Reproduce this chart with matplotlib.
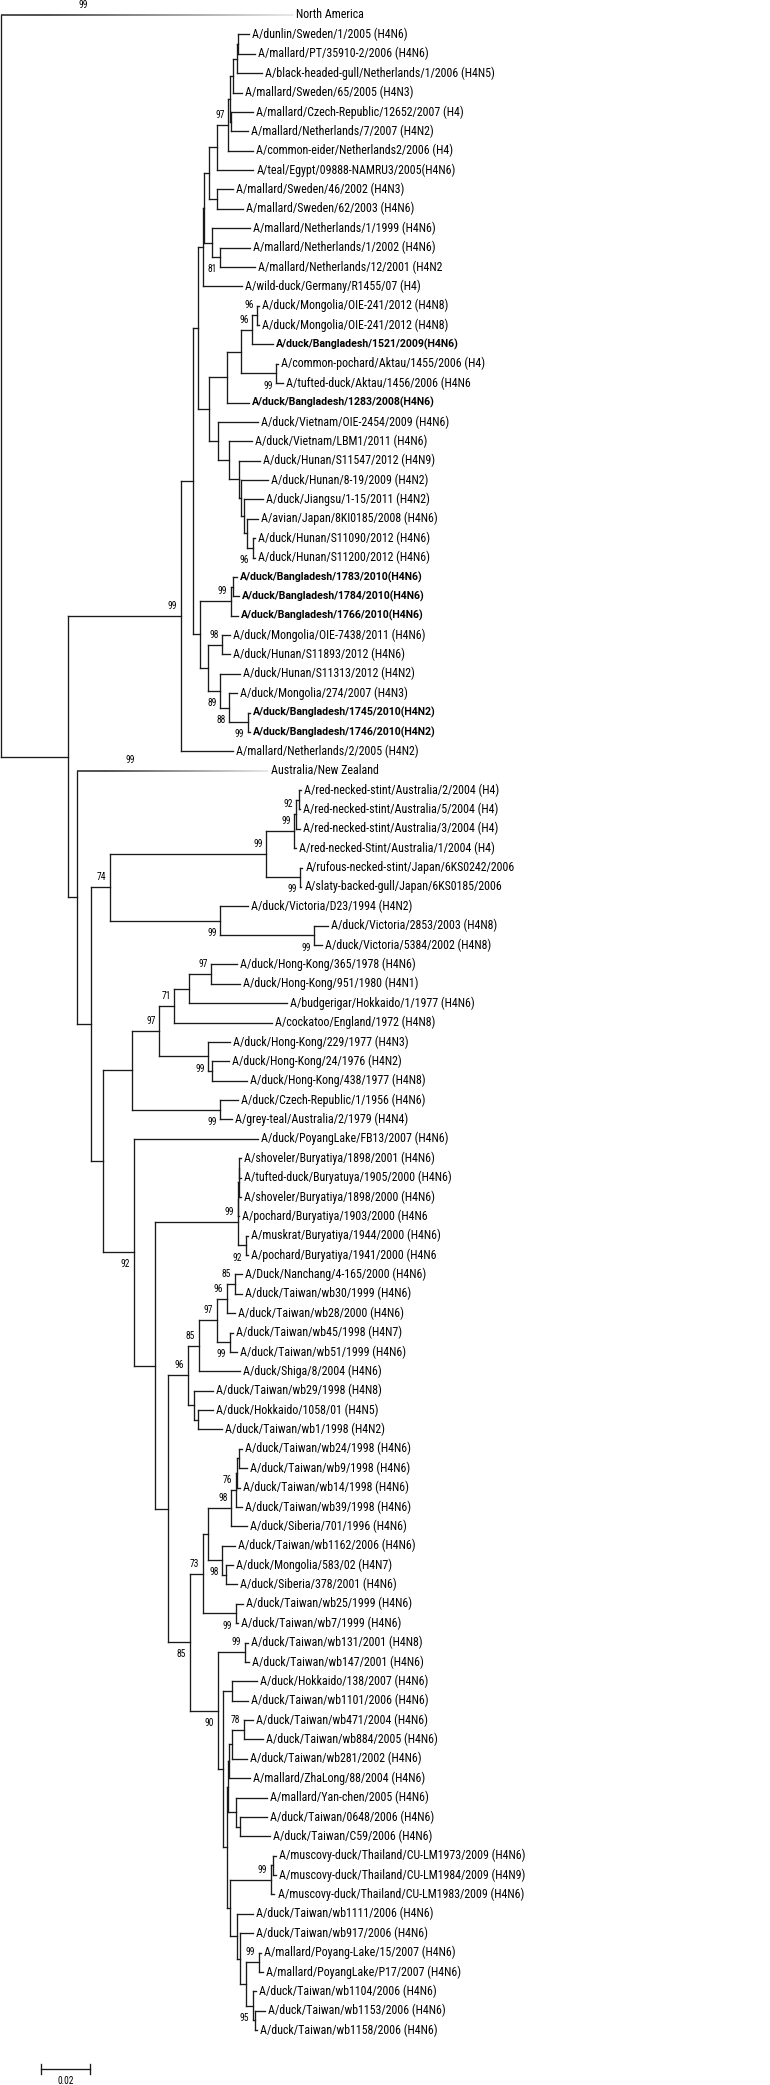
"""Phylogenetic tree of H4 HA sequences (neighbour-joining, bootstrap labels)."""

import matplotlib
matplotlib.use("Agg")
import matplotlib.pyplot as plt
import matplotlib.font_manager as fm
from matplotlib.collections import LineCollection
import numpy as np

leaf_names = [
    "North America",
    "A/dunlin/Sweden/1/2005 (H4N6)",
    "A/mallard/PT/35910-2/2006 (H4N6)",
    "A/black-headed-gull/Netherlands/1/2006 (H4N5)",
    "A/mallard/Sweden/65/2005 (H4N3)",
    "A/mallard/Czech-Republic/12652/2007 (H4)",
    "A/mallard/Netherlands/7/2007 (H4N2)",
    "A/common-eider/Netherlands2/2006 (H4)",
    "A/teal/Egypt/09888-NAMRU3/2005(H4N6)",
    "A/mallard/Sweden/46/2002 (H4N3)",
    "A/mallard/Sweden/62/2003 (H4N6)",
    "A/mallard/Netherlands/1/1999 (H4N6)",
    "A/mallard/Netherlands/1/2002 (H4N6)",
    "A/mallard/Netherlands/12/2001 (H4N2",
    "A/wild-duck/Germany/R1455/07 (H4)",
    "A/duck/Mongolia/OIE-241/2012 (H4N8)",
    "A/duck/Mongolia/OIE-241/2012 (H4N8)",
    "A/duck/Bangladesh/1521/2009(H4N6)",
    "A/common-pochard/Aktau/1455/2006 (H4)",
    "A/tufted-duck/Aktau/1456/2006 (H4N6",
    "A/duck/Bangladesh/1283/2008(H4N6)",
    "A/duck/Vietnam/OIE-2454/2009 (H4N6)",
    "A/duck/Vietnam/LBM1/2011 (H4N6)",
    "A/duck/Hunan/S11547/2012 (H4N9)",
    "A/duck/Hunan/8-19/2009 (H4N2)",
    "A/duck/Jiangsu/1-15/2011 (H4N2)",
    "A/avian/Japan/8KI0185/2008 (H4N6)",
    "A/duck/Hunan/S11090/2012 (H4N6)",
    "A/duck/Hunan/S11200/2012 (H4N6)",
    "A/duck/Bangladesh/1783/2010(H4N6)",
    "A/duck/Bangladesh/1784/2010(H4N6)",
    "A/duck/Bangladesh/1766/2010(H4N6)",
    "A/duck/Mongolia/OIE-7438/2011 (H4N6)",
    "A/duck/Hunan/S11893/2012 (H4N6)",
    "A/duck/Hunan/S11313/2012 (H4N2)",
    "A/duck/Mongolia/274/2007 (H4N3)",
    "A/duck/Bangladesh/1745/2010(H4N2)",
    "A/duck/Bangladesh/1746/2010(H4N2)",
    "A/mallard/Netherlands/2/2005 (H4N2)",
    "Australia/New Zealand",
    "A/red-necked-stint/Australia/2/2004 (H4)",
    "A/red-necked-stint/Australia/5/2004 (H4)",
    "A/red-necked-stint/Australia/3/2004 (H4)",
    "A/red-necked-Stint/Australia/1/2004 (H4)",
    "A/rufous-necked-stint/Japan/6KS0242/2006",
    "A/slaty-backed-gull/Japan/6KS0185/2006",
    "A/duck/Victoria/D23/1994 (H4N2)",
    "A/duck/Victoria/2853/2003 (H4N8)",
    "A/duck/Victoria/5384/2002 (H4N8)",
    "A/duck/Hong-Kong/365/1978 (H4N6)",
    "A/duck/Hong-Kong/951/1980 (H4N1)",
    "A/budgerigar/Hokkaido/1/1977 (H4N6)",
    "A/cockatoo/England/1972 (H4N8)",
    "A/duck/Hong-Kong/229/1977 (H4N3)",
    "A/duck/Hong-Kong/24/1976 (H4N2)",
    "A/duck/Hong-Kong/438/1977 (H4N8)",
    "A/duck/Czech-Republic/1/1956 (H4N6)",
    "A/grey-teal/Australia/2/1979 (H4N4)",
    "A/duck/PoyangLake/FB13/2007 (H4N6)",
    "A/shoveler/Buryatiya/1898/2001 (H4N6)",
    "A/tufted-duck/Buryatuya/1905/2000 (H4N6)",
    "A/shoveler/Buryatiya/1898/2000 (H4N6)",
    "A/pochard/Buryatiya/1903/2000 (H4N6",
    "A/muskrat/Buryatiya/1944/2000 (H4N6)",
    "A/pochard/Buryatiya/1941/2000 (H4N6",
    "A/Duck/Nanchang/4-165/2000 (H4N6)",
    "A/duck/Taiwan/wb30/1999 (H4N6)",
    "A/duck/Taiwan/wb28/2000 (H4N6)",
    "A/duck/Taiwan/wb45/1998 (H4N7)",
    "A/duck/Taiwan/wb51/1999 (H4N6)",
    "A/duck/Shiga/8/2004 (H4N6)",
    "A/duck/Taiwan/wb29/1998 (H4N8)",
    "A/duck/Hokkaido/1058/01 (H4N5)",
    "A/duck/Taiwan/wb1/1998 (H4N2)",
    "A/duck/Taiwan/wb24/1998 (H4N6)",
    "A/duck/Taiwan/wb9/1998 (H4N6)",
    "A/duck/Taiwan/wb14/1998 (H4N6)",
    "A/duck/Taiwan/wb39/1998 (H4N6)",
    "A/duck/Siberia/701/1996 (H4N6)",
    "A/duck/Taiwan/wb1162/2006 (H4N6)",
    "A/duck/Mongolia/583/02 (H4N7)",
    "A/duck/Siberia/378/2001 (H4N6)",
    "A/duck/Taiwan/wb25/1999 (H4N6)",
    "A/duck/Taiwan/wb7/1999 (H4N6)",
    "A/duck/Taiwan/wb131/2001 (H4N8)",
    "A/duck/Taiwan/wb147/2001 (H4N6)",
    "A/duck/Hokkaido/138/2007 (H4N6)",
    "A/duck/Taiwan/wb1101/2006 (H4N6)",
    "A/duck/Taiwan/wb471/2004 (H4N6)",
    "A/duck/Taiwan/wb884/2005 (H4N6)",
    "A/duck/Taiwan/wb281/2002 (H4N6)",
    "A/mallard/ZhaLong/88/2004 (H4N6)",
    "A/mallard/Yan-chen/2005 (H4N6)",
    "A/duck/Taiwan/0648/2006 (H4N6)",
    "A/duck/Taiwan/C59/2006 (H4N6)",
    "A/muscovy-duck/Thailand/CU-LM1973/2009 (H4N6)",
    "A/muscovy-duck/Thailand/CU-LM1984/2009 (H4N9)",
    "A/muscovy-duck/Thailand/CU-LM1983/2009 (H4N6)",
    "A/duck/Taiwan/wb1111/2006 (H4N6)",
    "A/duck/Taiwan/wb917/2006 (H4N6)",
    "A/mallard/Poyang-Lake/15/2007 (H4N6)",
    "A/mallard/PoyangLake/P17/2007 (H4N6)",
    "A/duck/Taiwan/wb1104/2006 (H4N6)",
    "A/duck/Taiwan/wb1153/2006 (H4N6)",
    "A/duck/Taiwan/wb1158/2006 (H4N6)",
]
bold_leaves = [17, 20, 29, 30, 31, 36, 37]
# collapsed clades (drawn as fading branch) and their bootstrap support
collapsed_support = {0: 99, 39: 99}
scale_length = 0.02

# subtrees in Newick with leaf indices; "v" marks a support value written below the node
europe = ("(((((((((1:0.0045,2:0.0070):0.0004,3:0.0103):0.0016,4:0.0037):0.0012,"
          "(5:0.0090,6:0.0070):0.0004):0.0008,7:0.0103)97:0.0045,8:0.0148):0.0033,"
          "(9:0.0066,10:0.0107):0.0033):0.0021,(11:0.0156,(12:0.0123,13:0.0144)81v:0.0033):0.0033)"
          ":0.0004,14:0.0160):0.0021")
asia = ("(((((15:0.0008,16:0.0008)96:0.0021,17:0.0086)96:0.0045,(18:0.0008,19:0.0029)99v:0.0144)"
        ":0.0058,20:0.0090):0.0074,(21:0.0164,(22:0.0095,(23:0.0086,(24:0.0111,(25:0.0078,"
        "(26:0.0045,(27:0.0008,28:0.0008)96v:0.0025):0.0012):0.0012):0.0008):0.0041):0.0045)"
        ":0.0037):0.0045")
bangladesh = ("(((29:0.0016,30:0.0025):0.0008,31:0.0029)99:0.0127,((32:0.0033,33:0.0033)98:0.0058,"
              "(34:0.0082,(35:0.0033,(36:0.0008,37:0.0008)99v:0.0078)88v:0.0037)89v:0.0049):0.0033)"
              ":0.0029")
austral = ("(((((40:0.0008,41:0.0004):0.0012,42:0.0016)92:0.0008,43:0.0008)99:0.0115,"
           "(44:0.0008,45:0.0004)99v:0.0140)99:0.0641,(46:0.0115,(47:0.0058,48:0.0033)99v:0.0386)"
           "99v:0.0452)74:0.0078")
old_hk = ("(((((49:0.0107,50:0.0119)97:0.0090,51:0.0403):0.0062,52:0.0403)71:0.0062,"
          "(53:0.0090,(54:0.0070,55:0.0144):0.0016)99v:0.0201)97:0.0111,"
          "(56:0.0074,57:0.0049)99v:0.0362):0.0119")
buryatiya = ("((((59:0.0008,60:0.0008):0.0002,61:0.0008):0.0002,62:0.0004):0.0002,"
             "(63:0.0008,64:0.0008)92v:0.0033)99:0.0341")
taiwan_a = ("(((((65:0.0029,66:0.0029)85:0.0033,67:0.0033)96:0.0041,(68:0.0012,69:0.0029)99v:0.0053)"
            "97:0.0074,70:0.0168)85:0.0045,(71:0.0078,(72:0.0062,73:0.0099):0.0016):0.0025)96:0.0082")
taiwan_b = ("((((((74:0.0012,75:0.0033):0.0008,76:0.0012):0.0004,77:0.0025)76:0.0021,78:0.0066)"
            "98:0.0095,(79:0.0053,(80:0.0029,81:0.0045):0.0016)98v:0.0058):0.0021,"
            "(82:0.0029,83:0.0008)99v:0.0136)73:0.0053")
taiwan_c = ("((84:0.0012,85:0.0016)99:0.0111,((86:0.0103,87:0.0066):0.0037,(((((88:0.0037,"
            "89:0.0078)78:0.0049,90:0.0062):0.0012,91:0.0086):0.0004,(92:0.0127,(93:0.0111,"
            "94:0.0123):0.0016):0.0033):0.0004,(((95:0.0016,96:0.0016):0.0008,97:0.0016)99:0.0168,"
            "(98:0.0066,(99:0.0053,((100:0.0008,101:0.0016)99:0.0053,(102:0.0012,(103:0.0041,"
            "104:0.0008):0.0008)95v:0.0029):0.0025):0.0012):0.0029):0.0012):0.0016):0.0021)90v:0.0115")

eurasian = "(((" + europe + "," + asia + "):0.0021," + bangladesh + "):0.0049,38:0.0214)99:0.0464"
taiwan = "(" + taiwan_a + ",(" + taiwan_b + "," + taiwan_c + ")85v:0.0090):0.0053"
rest = ("(39:0.0785,(" + austral + ",(" + old_hk + ",(58:0.0510,(" + buryatiya + "," + taiwan
        + "):0.0086)92v:0.0127):0.0049):0.0058):0.0037")
tree_newick = "(0:0.1200,(" + eurasian + "," + rest + "):0.0275);"


def parse_newick(s):
    pos = 0

    def read_until(stops):
        nonlocal pos
        start = pos
        while s[pos] not in stops:
            pos += 1
        return s[start:pos]

    def node():
        nonlocal pos
        n = {"children": [], "leaf": None, "support": "", "length": 0.0}
        if s[pos] == "(":
            pos += 1
            while True:
                n["children"].append(node())
                ch = s[pos]
                pos += 1
                if ch == ")":
                    break
            n["support"] = read_until(":,);")
        else:
            n["leaf"] = int(read_until(":,);"))
        if s[pos] == ":":
            pos += 1
            n["length"] = float(read_until(",);"))
        return n

    return node()


def layout(n, x0, counter):
    n["x0"] = x0
    n["x"] = x0 + n["length"]
    if n["leaf"] is not None:
        n["y"] = counter[0]
        counter[0] += 1
    else:
        for c in n["children"]:
            layout(c, n["x"], counter)
        n["y"] = (n["children"][0]["y"] + n["children"][-1]["y"]) / 2


def walk(n):
    yield n
    for c in n["children"]:
        yield from walk(c)


root = parse_newick(tree_newick)
layout(root, 0.0, [0])
nodes = list(walk(root))

# fonts: a narrow grotesque like the original figure
available = {f.name for f in fm.fontManager.ttflist}
family = next(f for f in ["Roboto Condensed", "Archivo Narrow", "PT Sans Narrow",
                          "Liberation Sans"] if f in available)
bold_family = "Roboto" if "Roboto" in available else family

px_per_unit = 2435.0
row_px = 19.375
W, H = 770, 2085
fig = plt.figure(figsize=(W / 100, H / 100), dpi=100)
ax = fig.add_axes([0, 0, 1, 1])
ax.set_xlim(-1 / px_per_unit, (W - 1) / px_per_unit)
ax.set_ylim((H - 15) / row_px, -15 / row_px)
ax.axis("off")


def fit_size(text, target_px, fam, weight="normal"):
    probe = fig.text(0, 0, text, fontsize=10, family=fam, fontweight=weight)
    fig.canvas.draw()
    w = probe.get_window_extent().width
    probe.remove()
    return 10 * target_px / w


# fit font sizes to the widths of labels in the original
leaf_size = fit_size(leaf_names[1], 155, family)
bold_size = fit_size(leaf_names[17], 184, bold_family, "bold")
boot_size = leaf_size * 0.8

segs = []
for n in nodes:
    if n["leaf"] in collapsed_support:
        continue
    segs.append([(n["x0"], n["y"]), (n["x"], n["y"])])
    if n["children"]:
        segs.append([(n["x"], n["children"][0]["y"]), (n["x"], n["children"][-1]["y"])])
ax.add_collection(LineCollection(segs, colors="#1a1a1a", linewidths=0.95, capstyle="projecting"))

# collapsed clades: branch fading to light grey
for n in nodes:
    if n["leaf"] not in collapsed_support:
        continue
    t = np.linspace(0, 1, 80)
    xs = n["x0"] + t * n["length"]
    gseg = [[(xs[i], n["y"]), (xs[i + 1], n["y"])] for i in range(len(xs) - 1)]
    g = 0.2 + 0.7 * np.clip((t[:-1] - 0.15) / 0.85, 0, 1)
    ax.add_collection(LineCollection(gseg, colors=[(v, v, v) for v in g], linewidths=1.2))
    ax.annotate(str(collapsed_support[n["leaf"]]), (n["x0"] + 0.28 * n["length"], n["y"]),
                xytext=(0, 7.5), textcoords="offset points", ha="center", va="center",
                fontsize=boot_size, family=family)

# leaf labels
for n in nodes:
    if n["leaf"] is None:
        continue
    i = n["leaf"]
    if i in bold_leaves:
        style = dict(fontsize=bold_size, family=bold_family, fontweight="bold")
    else:
        style = dict(fontsize=leaf_size, family=family)
    ax.annotate(leaf_names[i], (n["x"], n["y"]), xytext=(2.2, 0), textcoords="offset points",
                ha="left", va="center", **style)

# bootstrap values
for n in nodes:
    lab = n["support"]
    if not lab:
        continue
    below = lab.endswith("v")
    ax.annotate(lab.rstrip("v"), (n["x"], n["y"]), xytext=(-2.5, -8.8 if below else 7.2),
                textcoords="offset points", ha="right", va="center", fontsize=boot_size,
                family=family)

# scale bar
sb_y = len(leaf_names) + 1
sb_x0 = 40 / px_per_unit
ax.plot([sb_x0, sb_x0 + scale_length], [sb_y, sb_y], color="#1a1a1a", lw=0.95)
for xe in (sb_x0, sb_x0 + scale_length):
    ax.plot([xe, xe], [sb_y - 0.25, sb_y + 0.25], color="#1a1a1a", lw=0.95)
ax.annotate(f"{scale_length:g}", (sb_x0 + scale_length / 2, sb_y), xytext=(0, -8.5),
            textcoords="offset points", ha="center", va="center", fontsize=boot_size, family=family)

fig.savefig("out.png", dpi=100)
